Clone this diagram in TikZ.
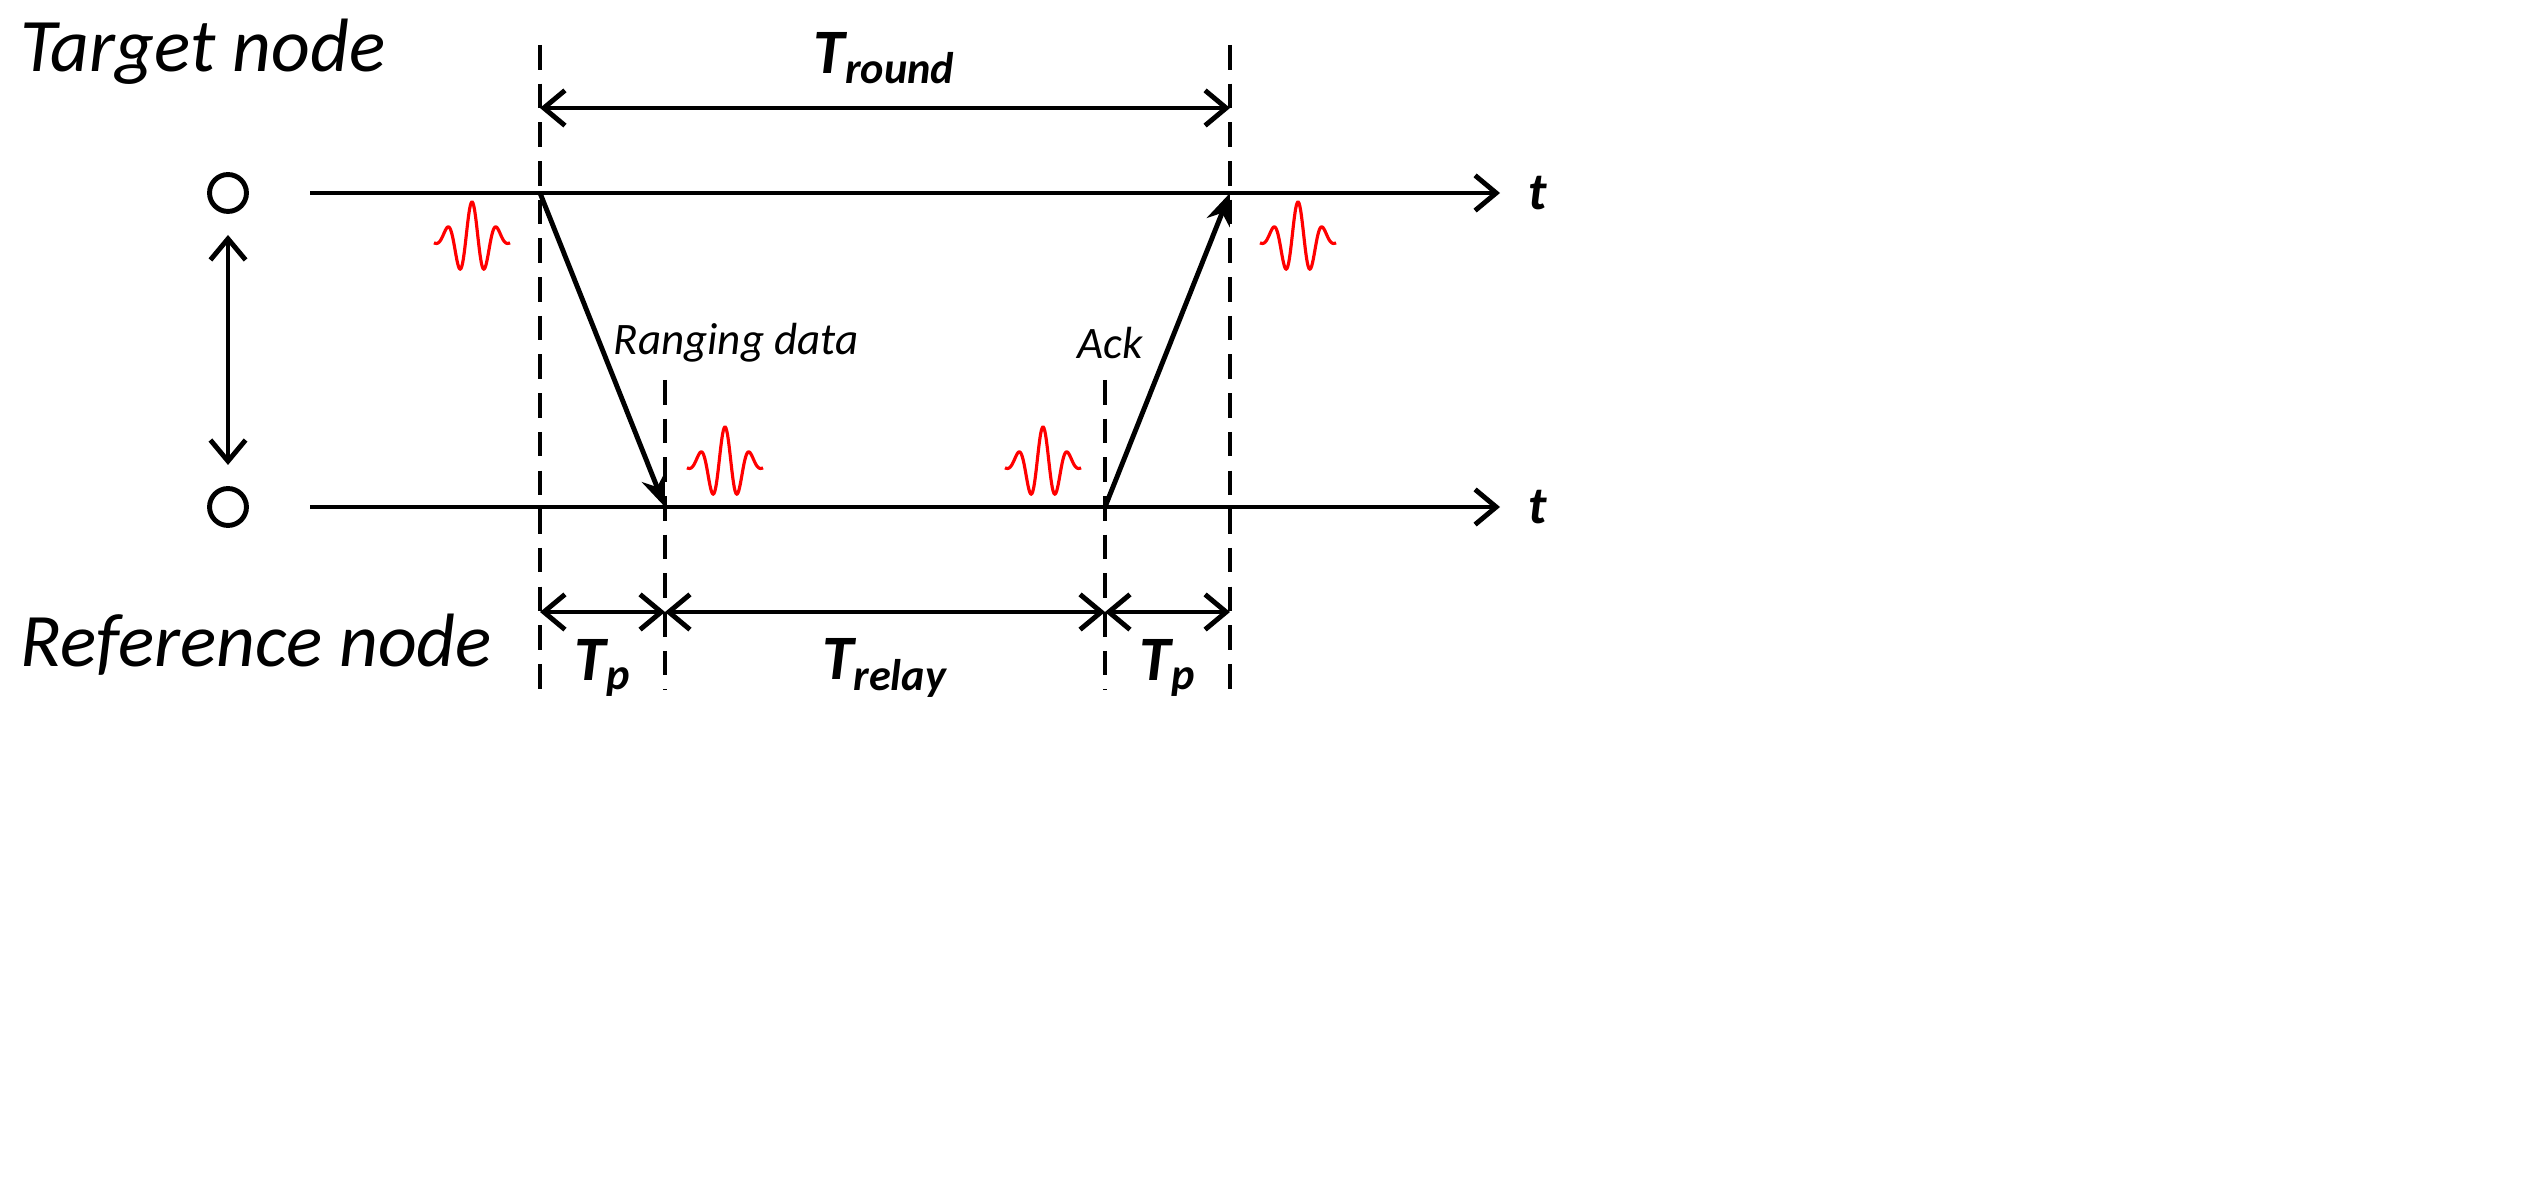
\documentclass[tikz,border=0pt]{standalone}
\usepackage{fontspec}
\setmainfont{Carlito}
\usetikzlibrary{arrows.meta}
\tikzset{
  axis/.style={line width=1.4pt,-{Straight Barb[length=6pt,width=10pt]}},
  span/.style={line width=1.4pt,{Straight Barb[length=6pt,width=10pt]}-{Straight Barb[length=6pt,width=10pt]}},
  msg/.style={line width=1.4pt,-{Stealth[length=9pt,width=7pt]}},
  guide/.style={line width=1pt,dash pattern=on 7pt off 4pt},
  lbl/.style={font=\fontsize{12.8}{15}\selectfont\itshape},
  side/.style={font=\fontsize{21.5}{25}\selectfont\itshape,anchor=west},
  big/.style={font=\fontsize{18}{21}\selectfont\bfseries\itshape},
  pulse/.style={red,line width=0.9pt}
}
\newcommand{\wavelet}[2]{\draw[pulse,domain=-38:38,samples=120] plot ({#1+\x},{#2-38*exp(-18*(\x/100)*(\x/100))*cos(\x*360/25)});}
\begin{document}
\begin{tikzpicture}[x=0.01cm,y=-0.01cm]
\useasboundingbox (0,0) rectangle (2531,1177);
% nodes
\node[side] (tgt) at (8,52) {Target node};
\node[side] (ref) at (8,645) {Reference node};
\node[circle,draw,line width=1.4pt,minimum size=10.5pt,inner sep=0pt] (ta) at (228,193) {};
\node[circle,draw,line width=1.4pt,minimum size=10.5pt,inner sep=0pt] (ra) at (228,507) {};
\coordinate (d1) at (228,235); \coordinate (d2) at (228,465);
\draw[span] (d1) -- (d2);
% time axes
\coordinate (t0) at (310,193); \coordinate (t1) at (1500,193);
\coordinate (r0) at (310,507); \coordinate (r1) at (1500,507);
\draw[axis] (t0) -- (t1) node[right=4pt,font=\fontsize{15}{18}\selectfont\bfseries\itshape] (tt) {t};
\draw[axis] (r0) -- (r1) node[right=4pt,font=\fontsize{15}{18}\selectfont\bfseries\itshape] (rt) {t};
% markers
\coordinate (s) at (540,193); \coordinate (a) at (665,507);
\coordinate (b) at (1105,507); \coordinate (e) at (1230,193);
\draw[guide] (540,45) -- (540,690);
\draw[guide] (1230,45) -- (1230,690);
\draw[guide] (665,380) -- (665,690);
\draw[guide] (1105,380) -- (1105,690);
% messages
\draw[msg] (s) -- (a);
\draw[msg] (b) -- (e);
\node[lbl] (rd) at (736,343) {Ranging data};
\node[lbl] (ack) at (1110,343) {Ack};
% intervals
\coordinate (m0) at (540,108); \coordinate (m1) at (1230,108);
\draw[span] (m0) -- (m1);
\node[big] (tr) at (885,58) {T\textsubscript{round}};
\coordinate (p0) at (540,612); \coordinate (p1) at (665,612);
\coordinate (p2) at (1105,612); \coordinate (p3) at (1230,612);
\draw[span] (p0) -- (p1);
\draw[span] (p1) -- (p2);
\draw[span] (p2) -- (p3);
\node[big] (tp1) at (603,668) {T\textsubscript{p}};
\node[big] (trl) at (885,668) {T\textsubscript{relay}};
\node[big] (tp2) at (1168,668) {T\textsubscript{p}};
% pulses
\wavelet{472}{240}
\wavelet{1298}{240}
\wavelet{725}{465}
\wavelet{1043}{465}
\end{tikzpicture}
\end{document}
